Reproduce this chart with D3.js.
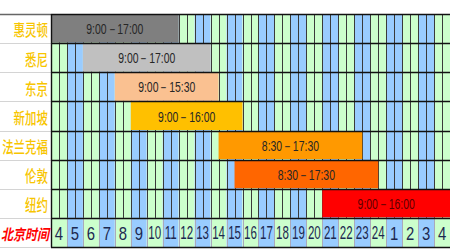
<!DOCTYPE html>
<html><head><meta charset="utf-8">
<script src="https://cdn.jsdelivr.net/npm/d3@7"></script>
<style>html,body{margin:0;padding:0;background:#fff;}svg{display:block;}</style>
</head><body>
<svg id="c" width="450" height="250"></svg>
<script>
// ---- data ----
const cities = ["惠灵顿", "悉尼", "东京", "新加坡", "法兰克福", "伦敦", "纽约"];
const localHours = ["9:00－17:00", "9:00－17:00", "9:00－15:30", "9:00－16:00", "8:30－17:30", "8:30－17:30", "9:00－16:00"];
const startBJ = [4, 6, 8, 9, 14.5, 15.5, 21];
const endBJ = [12, 14, 14.5, 16, 23.5, 24.5, 29];
const hourLabels = ["4","5","6","7","8","9","10","11","12","13","14","15","16","17","18","19","20","21","22","23","24","1","2","3","4"];
const axisTitle = "北京时间";

// ---- styles ----
const barColors = ["#7f7f7f", "#c0c0c0", "#fac191", "#ffc000", "#ff9900", "#ff6600", "#ff0000"];
const W = 450, H = 250;
const svg = d3.select("#c");

const rows = cities.concat([axisTitle]);
const y = d3.scaleBand().domain(rows).range([14, 247]);
const x = d3.scaleLinear().domain([4, 4 + hourLabels.length]).range([51, 450]);
const color = d3.scaleOrdinal(cities, barColors);

const hourIdx = d3.range(hourLabels.length);
// column backgrounds
svg.append("g").selectAll("rect").data(hourIdx).join("rect")
  .attr("x", i => x(4 + i)).attr("width", i => x(5 + i) - x(4 + i))
  .attr("y", y.range()[0]).attr("height", y.range()[1] - y.range()[0])
  .attr("fill", i => i % 2 === 0 ? "#ccffcc" : "#99ccff");

// half-hour grid lines in city rows
const halfTicks = d3.range(4, 4 + hourLabels.length + 0.01, 0.5);
svg.append("g").selectAll("line").data(halfTicks).join("line")
  .attr("x1", d => Math.round(x(d)) + 0.5).attr("x2", d => Math.round(x(d)) + 0.5)
  .attr("y1", y(cities[0])).attr("y2", y(axisTitle))
  .attr("stroke", "#3a3a3a").attr("stroke-width", 1);

// hour lines in bottom row
svg.append("g").selectAll("line").data(d3.range(4, 4 + hourLabels.length + 0.01, 1)).join("line")
  .attr("x1", d => Math.round(x(d)) + 0.5).attr("x2", d => Math.round(x(d)) + 0.5)
  .attr("y1", y(axisTitle)).attr("y2", y(axisTitle) + y.bandwidth())
  .attr("stroke", "#aab").attr("stroke-width", 1);

// bars
const bars = cities.map((c, i) => ({city: c, label: localHours[i], s: startBJ[i], e: endBJ[i]}));
svg.append("g").selectAll("rect").data(bars).join("rect")
  .attr("x", d => x(d.s)).attr("width", d => x(d.e) - x(d.s))
  .attr("y", d => y(d.city) + 0.5).attr("height", y.bandwidth() - 1)
  .attr("fill", d => color(d.city));

// bar labels
svg.append("g").selectAll("g").data(bars).join("g")
  .attr("transform", d => `translate(${(x(d.s) + Math.min(x(d.e), W)) / 2},${y(d.city) + y.bandwidth() / 2 + 1}) scale(0.72,1)`)
  .append("text")
  .attr("text-anchor", "middle").attr("dominant-baseline", "central")
  .attr("font-family", "Liberation Sans, Arial, sans-serif").attr("font-size", 14.5)
  .attr("fill", d => d.city === "纽约" ? "#5a0000" : "#262626")
  .text(d => d.label);

// left label column background
svg.append("rect").attr("x", 0).attr("y", 14).attr("width", 51).attr("height", 233).attr("fill", "#fff");

// row separators
const rowEdges = rows.map(r => y(r)).concat([y.range()[1]]);
svg.append("g").selectAll("line").data(rowEdges).join("line")
  .attr("x1", 0).attr("x2", 51)
  .attr("y1", d => Math.round(d) + 0.5).attr("y2", d => Math.round(d) + 0.5)
  .attr("stroke", "#d4d4d4");
svg.append("g").selectAll("line").data(rowEdges).join("line")
  .attr("x1", 51).attr("x2", W)
  .attr("y1", d => Math.round(d) + 0.5).attr("y2", d => Math.round(d) + 0.5)
  .attr("stroke", "#111").attr("stroke-width", 1.6);
svg.append("line").attr("x1", 0).attr("x2", 51).attr("y1", 14.5).attr("y2", 14.5)
  .attr("stroke", "#666").attr("stroke-width", 1.4);
svg.append("line").attr("x1", 51.5).attr("x2", 51.5).attr("y1", 14).attr("y2", 247)
  .attr("stroke", "#111").attr("stroke-width", 1.4);

// city labels
svg.append("g").selectAll("g").data(cities).join("g")
  .attr("transform", d => `translate(48,${y(d) + y.bandwidth() / 2 + 1}) scale(0.74,1)`)
  .append("text")
  .attr("text-anchor", "end").attr("dominant-baseline", "central")
  .attr("font-family", "Noto Sans CJK SC, sans-serif").attr("font-size", 15.5)
  .attr("font-weight", 500)
  .attr("fill", "#f7c500")
  .text(d => d);

// axis title
svg.append("g")
  .attr("transform", `translate(49,${y(axisTitle) + y.bandwidth() / 2 + 1}) scale(0.8,1)`)
  .append("text")
  .attr("text-anchor", "end").attr("dominant-baseline", "central")
  .attr("font-family", "Noto Sans CJK SC, sans-serif").attr("font-size", 15)
  .attr("font-style", "italic").attr("font-weight", "bold")
  .attr("fill", "#ff0000")
  .text(axisTitle);

// hour labels
svg.append("g").selectAll("g").data(hourIdx).join("g")
  .attr("transform", i => `translate(${(x(4 + i) + x(5 + i)) / 2},${y(axisTitle) + y.bandwidth() / 2 + 1}) scale(${hourLabels[i].length > 1 ? 0.66 : 0.85},1)`)
  .append("text")
  .attr("text-anchor", "middle").attr("dominant-baseline", "central")
  .attr("font-family", "Liberation Sans, Arial, sans-serif").attr("font-size", 17.5)
  .attr("fill", "#1c2850")
  .text(i => hourLabels[i]);
</script>
</body></html>
